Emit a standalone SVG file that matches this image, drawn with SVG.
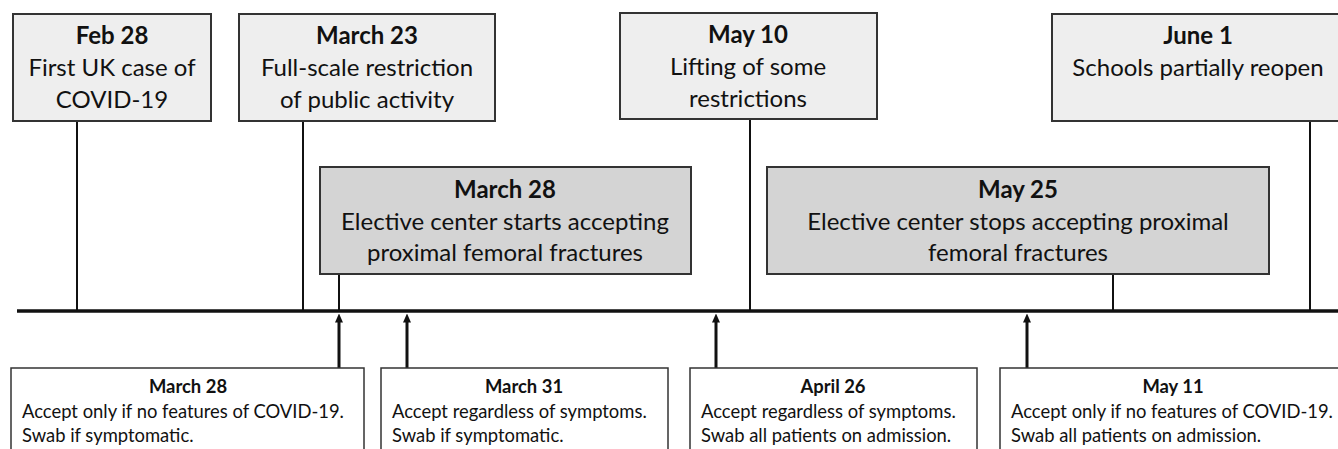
<svg xmlns="http://www.w3.org/2000/svg" width="1338" height="449" viewBox="0 0 1338 449">
<defs>
<style>
.top{fill:#eeeeee;stroke:#333;stroke-width:2}
.mid{fill:#d4d4d4;stroke:#333;stroke-width:2}
.bot{fill:#ffffff;stroke:#333;stroke-width:1.5}
text{font-family:Lato,"Liberation Sans",sans-serif;fill:#111}
.t{font-size:24px;text-anchor:middle}
.tb{font-size:24px;text-anchor:middle;font-weight:bold}
.b{font-size:18.4px}
.bb{font-size:18.4px;font-weight:bold;text-anchor:middle}
.ln{stroke:#111;stroke-width:2;fill:none}
.ar{stroke:#111;stroke-width:3;fill:none}
</style>
<marker id="ah" viewBox="0 0 9 8" refX="0.5" refY="4" markerWidth="9" markerHeight="8" orient="auto" markerUnits="userSpaceOnUse">
<path d="M0,0 L9,4 L0,8 z" fill="#111"/>
</marker>
</defs>
<rect width="1338" height="449" fill="#fff"/>
<g id="connectors">
<line class="ln" x1="77" y1="121" x2="77" y2="311"/>
<line class="ln" x1="303" y1="121" x2="303" y2="311"/>
<line class="ln" x1="750" y1="119" x2="750" y2="311"/>
<line class="ln" x1="1310" y1="121" x2="1310" y2="311"/>
<line class="ln" x1="339" y1="274" x2="339" y2="311"/>
<line class="ln" x1="1113" y1="274" x2="1113" y2="311"/>
<line x1="17" y1="311" x2="1338" y2="311" stroke="#111" stroke-width="3.5"/>
<line class="ar" x1="339" y1="368" x2="339" y2="322" marker-end="url(#ah)"/>
<line class="ar" x1="407" y1="368" x2="407" y2="322" marker-end="url(#ah)"/>
<line class="ar" x1="716" y1="368" x2="716" y2="322" marker-end="url(#ah)"/>
<line class="ar" x1="1027" y1="368" x2="1027" y2="322" marker-end="url(#ah)"/>
</g>
<g id="feb28">
<rect class="top" x="13" y="14" width="198" height="107"/>
<text class="tb" x="112" y="44">Feb 28</text>
<text class="t" x="112" y="76">First UK case of</text>
<text class="t" x="112" y="108">COVID-19</text>
</g>
<g id="mar23">
<rect class="top" x="239" y="14" width="256" height="107"/>
<text class="tb" x="367" y="44">March 23</text>
<text class="t" x="367" y="76">Full-scale restriction</text>
<text class="t" x="367" y="108">of public activity</text>
</g>
<g id="may10">
<rect class="top" x="620" y="13" width="257" height="106"/>
<text class="tb" x="748" y="43">May 10</text>
<text class="t" x="748" y="75">Lifting of some</text>
<text class="t" x="748" y="107">restrictions</text>
</g>
<g id="jun1">
<rect class="top" x="1052" y="14" width="300" height="107"/>
<text class="tb" x="1198" y="44">June 1</text>
<text class="t" x="1198" y="76">Schools partially reopen</text>
</g>
<g id="mar28mid">
<rect class="mid" x="320" y="167" width="371" height="107"/>
<text class="tb" x="505" y="198">March 28</text>
<text class="t" x="505" y="230">Elective center starts accepting</text>
<text class="t" x="505" y="261">proximal femoral fractures</text>
</g>
<g id="may25mid">
<rect class="mid" x="767" y="167" width="502" height="107"/>
<text class="tb" x="1018" y="198">May 25</text>
<text class="t" x="1018" y="230">Elective center stops accepting proximal</text>
<text class="t" x="1018" y="261">femoral fractures</text>
</g>
<g id="mar28bot">
<rect class="bot" x="11" y="368" width="353" height="90"/>
<text class="bb" x="188" y="393">March 28</text>
<text class="b" x="22" y="418">Accept only if no features of COVID-19.</text>
<text class="b" x="22" y="442">Swab if symptomatic.</text>
</g>
<g id="mar31bot">
<rect class="bot" x="381" y="368" width="287" height="90"/>
<text class="bb" x="524" y="393">March 31</text>
<text class="b" x="392" y="418">Accept regardless of symptoms.</text>
<text class="b" x="392" y="442">Swab if symptomatic.</text>
</g>
<g id="apr26bot">
<rect class="bot" x="690" y="368" width="287" height="90"/>
<text class="bb" x="833" y="393">April 26</text>
<text class="b" x="701" y="418">Accept regardless of symptoms.</text>
<text class="b" x="701" y="442">Swab all patients on admission.</text>
</g>
<g id="may11bot">
<rect class="bot" x="1000" y="368" width="346" height="90"/>
<text class="bb" x="1173" y="393">May 11</text>
<text class="b" x="1011" y="418">Accept only if no features of COVID-19.</text>
<text class="b" x="1011" y="442">Swab all patients on admission.</text>
</g>
</svg>
